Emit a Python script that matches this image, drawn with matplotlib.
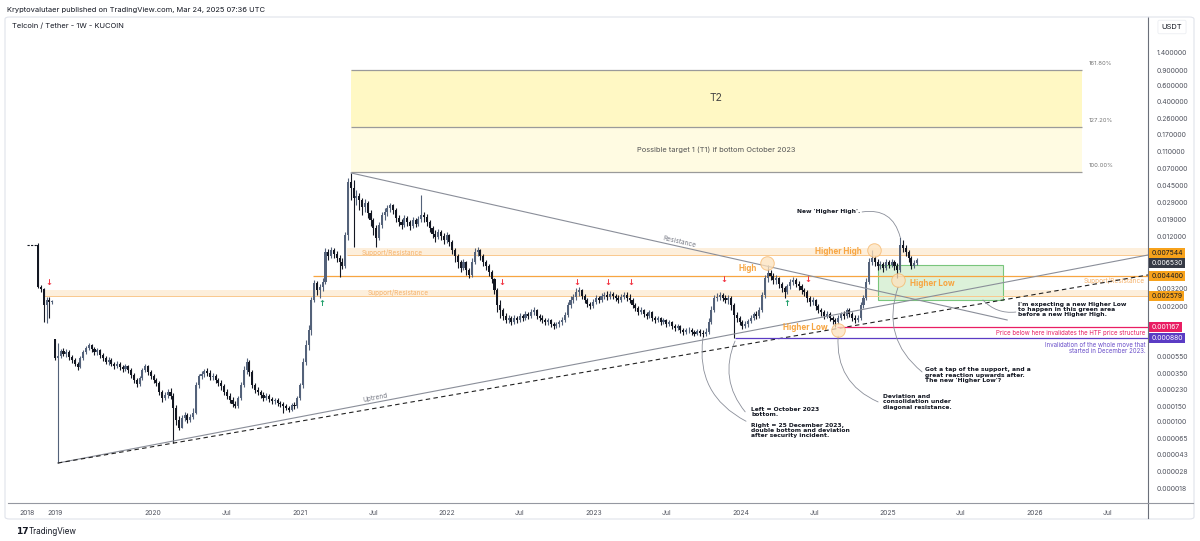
"""
Telcoin / Tether weekly chart (KuCoin) - TradingView style recreation
"""

import matplotlib
matplotlib.use('Agg')
import matplotlib.pyplot as plt
import matplotlib.transforms as mtransforms
from matplotlib.patches import Rectangle, FancyBboxPatch
from matplotlib.lines import Line2D
import numpy as np
import pandas as pd

plt.rcParams['font.family'] = ['Inter', 'DejaVu Sans']

# ---------------- data (weekly candles, bar index based like TradingView) ----------------
# 2018 bars (before the gap)
open_a0 = 0.00976
closes_a = [0.00329, 0.00312, 0.00206, 0.00235, 0.00223, 0.00229]
highs_a = [0.0103, 0.00346, 0.00320, 0.00254, 0.00254, 0.00235]
lows_a = [0.00320, 0.00289, 0.00133, 0.00130, 0.00147, 0.00212]

# May 2019 -> Mar 2025
open_b0 = 0.000855
closes_b = [
    0.000524, 0.000551, 0.000627, 0.000580, 0.000611, 0.000537, 0.000497, 0.000448, 0.000415, 0.000524,
    0.000611, 0.000678, 0.000733, 0.000660, 0.000611, 0.000644, 0.000566, 0.000524, 0.000472, 0.000497,
    0.000448, 0.000426, 0.000448, 0.000415, 0.000394, 0.000426, 0.000384, 0.000337, 0.000296, 0.000267,
    0.000312, 0.000384, 0.000426, 0.000365, 0.000329, 0.000296, 0.000274, 0.000217, 0.000186, 0.000201,
    0.000217, 0.000196, 0.000144, 0.000105, 0.0000856, 0.000111, 0.000120, 0.000105, 0.000114, 0.000126,
    0.000260, 0.000329, 0.000346, 0.000374, 0.000355, 0.000320, 0.000329, 0.000296, 0.000274, 0.000254,
    0.000217, 0.000196, 0.000177, 0.000159, 0.000151, 0.000186, 0.000260, 0.000384, 0.000472, 0.000365,
    0.000260, 0.000229, 0.000217, 0.000201, 0.000186, 0.000196, 0.000181, 0.000172, 0.000177, 0.000164,
    0.000159, 0.000151, 0.000144, 0.000136, 0.000155, 0.000151, 0.000186, 0.000260, 0.000472, 0.000733,
    0.00108, 0.00235, 0.00364, 0.00304, 0.00329, 0.00374, 0.00814, 0.00734, 0.00857, 0.00773,
    0.00697, 0.00628, 0.00566, 0.0126, 0.0497, 0.0425, 0.0328, 0.0346, 0.0312, 0.0260,
    0.0289, 0.0223, 0.0186, 0.0152, 0.0117, 0.0164, 0.0212, 0.0229, 0.0253, 0.0274,
    0.0241, 0.0196, 0.0177, 0.0164, 0.0196, 0.0177, 0.0160, 0.0186, 0.0168, 0.0191,
    0.0212, 0.0201, 0.0177, 0.0152, 0.0130, 0.0120, 0.0137, 0.0123, 0.0111, 0.0126,
    0.0105, 0.00857, 0.00734, 0.00628, 0.00537, 0.00628, 0.00510, 0.00448, 0.00628, 0.00814,
    0.00857, 0.00734, 0.00628, 0.00566, 0.00484, 0.00404, 0.00304, 0.00206, 0.00181, 0.00155,
    0.00140, 0.00147, 0.00133, 0.00147, 0.00140, 0.00155, 0.00147, 0.00163, 0.00155, 0.00172,
    0.00181, 0.00155, 0.00147, 0.00140, 0.00133, 0.00140, 0.00126, 0.00120, 0.00126, 0.00133,
    0.00140, 0.00159, 0.00206, 0.00235, 0.00254, 0.00289, 0.00304, 0.00260, 0.00235, 0.00212,
    0.00201, 0.00223, 0.00247, 0.00235, 0.00260, 0.00267, 0.00254, 0.00274, 0.00260, 0.00247,
    0.00235, 0.00254, 0.00267, 0.00247, 0.00235, 0.00206, 0.00191, 0.00172, 0.00181, 0.00163,
    0.00155, 0.00172, 0.00147, 0.00140, 0.00147, 0.00133, 0.00140, 0.00126, 0.00133, 0.00120,
    0.00114, 0.00120, 0.00108, 0.00103, 0.00108, 0.00108, 0.00103, 0.000974, 0.00105, 0.00100,
    0.000974, 0.00103, 0.00133, 0.00181, 0.00247, 0.00254, 0.00267, 0.00247, 0.00235, 0.00247,
    0.00206, 0.00159, 0.00147, 0.00133, 0.00120, 0.00126, 0.00136, 0.00147, 0.00163, 0.00155,
    0.00181, 0.00267, 0.00414, 0.00472, 0.00437, 0.00394, 0.00414, 0.00355, 0.00320, 0.00289,
    0.00337, 0.00374, 0.00394, 0.00355, 0.00337, 0.00304, 0.00289, 0.00247, 0.00223, 0.00235,
    0.00201, 0.00181, 0.00172, 0.00155, 0.00163, 0.00147, 0.00140, 0.00133, 0.00147, 0.00163,
    0.00155, 0.00181, 0.00163, 0.00147, 0.00140, 0.00147, 0.00206, 0.00247, 0.00374, 0.00628,
    0.00697, 0.00628, 0.00566, 0.00596, 0.00537, 0.00628, 0.00581, 0.00628, 0.00566, 0.00510,
    0.00976, 0.00903, 0.00814, 0.00697, 0.00566, 0.00611, 0.00653,
]
highs_b = [
    0.000855, 0.000771, 0.000660, 0.000678, 0.000660, 0.000644, 0.000566, 0.000524, 0.000472, 0.000551,
    0.000644, 0.000714, 0.000771, 0.000752, 0.000696, 0.000678, 0.000660, 0.000596, 0.000551, 0.000537,
    0.000524, 0.000472, 0.000484, 0.000472, 0.000437, 0.000448, 0.000437, 0.000404, 0.000355, 0.000312,
    0.000329, 0.000404, 0.000448, 0.000437, 0.000384, 0.000346, 0.000312, 0.000289, 0.000229, 0.000217,
    0.000235, 0.000241, 0.000212, 0.000155, 0.000117, 0.000120, 0.000130, 0.000126, 0.000123, 0.000144,
    0.000281, 0.000346, 0.000374, 0.000394, 0.000404, 0.000384, 0.000355, 0.000346, 0.000312, 0.000296,
    0.000267, 0.000235, 0.000212, 0.000191, 0.000172, 0.000196, 0.000281, 0.000426, 0.000524, 0.000497,
    0.000384, 0.000274, 0.000247, 0.000229, 0.000217, 0.000212, 0.000206, 0.000191, 0.000186, 0.000186,
    0.000172, 0.000168, 0.000159, 0.000151, 0.000164, 0.000168, 0.000196, 0.000274, 0.000524, 0.000834,
    0.00123, 0.00254, 0.00394, 0.00384, 0.00355, 0.00414, 0.00903, 0.00880, 0.00927, 0.00903,
    0.00835, 0.00753, 0.00697, 0.0137, 0.0551, 0.0627, 0.0523, 0.0404, 0.0374, 0.0328,
    0.0320, 0.0304, 0.0241, 0.0196, 0.0164, 0.0177, 0.0229, 0.0253, 0.0274, 0.0289,
    0.0281, 0.0253, 0.0212, 0.0191, 0.0212, 0.0206, 0.0186, 0.0201, 0.0196, 0.0206,
    0.0355, 0.0229, 0.0218, 0.0186, 0.0160, 0.0144, 0.0148, 0.0144, 0.0133, 0.0137,
    0.0130, 0.0111, 0.00903, 0.00773, 0.00661, 0.00679, 0.00644, 0.00537, 0.00697, 0.00903,
    0.00927, 0.00880, 0.00773, 0.00661, 0.00596, 0.00510, 0.00414, 0.00320, 0.00235, 0.00191,
    0.00168, 0.00159, 0.00155, 0.00159, 0.00155, 0.00168, 0.00163, 0.00176, 0.00172, 0.00186,
    0.00196, 0.00186, 0.00163, 0.00159, 0.00147, 0.00147, 0.00144, 0.00133, 0.00133, 0.00140,
    0.00151, 0.00172, 0.00223, 0.00260, 0.00274, 0.00320, 0.00329, 0.00312, 0.00274, 0.00247,
    0.00223, 0.00241, 0.00267, 0.00260, 0.00281, 0.00289, 0.00296, 0.00296, 0.00289, 0.00274,
    0.00267, 0.00274, 0.00289, 0.00289, 0.00274, 0.00247, 0.00217, 0.00201, 0.00196, 0.00186,
    0.00172, 0.00181, 0.00176, 0.00155, 0.00155, 0.00151, 0.00147, 0.00144, 0.00140, 0.00136,
    0.00126, 0.00126, 0.00123, 0.00114, 0.00114, 0.00117, 0.00114, 0.00108, 0.00111, 0.00111,
    0.00108, 0.00114, 0.00147, 0.00201, 0.00267, 0.00281, 0.00289, 0.00281, 0.00267, 0.00267,
    0.00260, 0.00217, 0.00172, 0.00155, 0.00140, 0.00136, 0.00144, 0.00159, 0.00172, 0.00176,
    0.00196, 0.00289, 0.00448, 0.00581, 0.00510, 0.00472, 0.00448, 0.00426, 0.00374, 0.00337,
    0.00355, 0.00404, 0.00426, 0.00414, 0.00384, 0.00355, 0.00320, 0.00304, 0.00260, 0.00254,
    0.00241, 0.00212, 0.00191, 0.00181, 0.00176, 0.00172, 0.00155, 0.00147, 0.00159, 0.00172,
    0.00176, 0.00191, 0.00191, 0.00172, 0.00159, 0.00159, 0.00223, 0.00267, 0.00414, 0.00697,
    0.00857, 0.00734, 0.00679, 0.00644, 0.00628, 0.00679, 0.00661, 0.00679, 0.00661, 0.00611,
    0.0120, 0.0111, 0.00976, 0.00857, 0.00734, 0.00661, 0.00697,
]
lows_b = [
    0.000497, 0.0000346, 0.000524, 0.000551, 0.000537, 0.000497, 0.000460, 0.000426, 0.000384, 0.000404,
    0.000497, 0.000580, 0.000644, 0.000611, 0.000566, 0.000566, 0.000524, 0.000484, 0.000448, 0.000437,
    0.000426, 0.000394, 0.000404, 0.000384, 0.000365, 0.000374, 0.000355, 0.000312, 0.000274, 0.000247,
    0.000254, 0.000296, 0.000365, 0.000337, 0.000304, 0.000274, 0.000254, 0.000201, 0.000168, 0.000177,
    0.000186, 0.000181, 0.0000580, 0.0000925, 0.0000813, 0.0000856, 0.000102, 0.0000972, 0.0000997, 0.000108,
    0.000123, 0.000241, 0.000304, 0.000320, 0.000329, 0.000296, 0.000296, 0.000274, 0.000254, 0.000229,
    0.000201, 0.000181, 0.000164, 0.000148, 0.000144, 0.000144, 0.000177, 0.000247, 0.000346, 0.000329,
    0.000241, 0.000212, 0.000201, 0.000186, 0.000172, 0.000177, 0.000168, 0.000159, 0.000159, 0.000151,
    0.000148, 0.000126, 0.000136, 0.000130, 0.000133, 0.000140, 0.000144, 0.000177, 0.000241, 0.000437,
    0.000644, 0.000949, 0.00223, 0.00267, 0.00247, 0.00296, 0.00355, 0.00661, 0.00697, 0.00697,
    0.00628, 0.00426, 0.00523, 0.00537, 0.0111, 0.0312, 0.00927, 0.0274, 0.0241, 0.0212,
    0.0229, 0.0196, 0.0160, 0.0126, 0.00927, 0.0111, 0.0152, 0.0186, 0.0206, 0.0229,
    0.0218, 0.0177, 0.0160, 0.0148, 0.0156, 0.0160, 0.0144, 0.0152, 0.0156, 0.0160,
    0.0177, 0.0177, 0.0160, 0.0137, 0.0117, 0.0105, 0.0114, 0.0111, 0.0100, 0.0103,
    0.00952, 0.00773, 0.00628, 0.00537, 0.00484, 0.00510, 0.00448, 0.00414, 0.00426, 0.00596,
    0.00734, 0.00661, 0.00566, 0.00510, 0.00437, 0.00364, 0.00274, 0.00172, 0.00147, 0.00140,
    0.00130, 0.00130, 0.00123, 0.00126, 0.00130, 0.00133, 0.00136, 0.00140, 0.00144, 0.00147,
    0.00159, 0.00144, 0.00136, 0.00130, 0.00123, 0.00123, 0.00117, 0.00111, 0.00114, 0.00117,
    0.00123, 0.00133, 0.00151, 0.00191, 0.00217, 0.00235, 0.00260, 0.00241, 0.00217, 0.00196,
    0.00186, 0.00191, 0.00212, 0.00217, 0.00223, 0.00241, 0.00235, 0.00241, 0.00241, 0.00229,
    0.00217, 0.00223, 0.00241, 0.00229, 0.00217, 0.00191, 0.00176, 0.00159, 0.00163, 0.00151,
    0.00144, 0.00147, 0.00136, 0.00130, 0.00133, 0.00123, 0.00126, 0.00117, 0.00120, 0.00111,
    0.00105, 0.00108, 0.00100, 0.000949, 0.000974, 0.00100, 0.000949, 0.000925, 0.000949, 0.000925,
    0.000901, 0.000925, 0.000974, 0.00126, 0.00172, 0.00229, 0.00235, 0.00229, 0.00217, 0.00212,
    0.00181, 0.000880, 0.00133, 0.00123, 0.00111, 0.00114, 0.00117, 0.00130, 0.00140, 0.00144,
    0.00147, 0.00172, 0.00247, 0.00374, 0.00394, 0.00355, 0.00355, 0.00320, 0.00289, 0.00247,
    0.00274, 0.00312, 0.00346, 0.00329, 0.00304, 0.00274, 0.00260, 0.00223, 0.00201, 0.00206,
    0.00181, 0.00168, 0.00155, 0.00144, 0.00147, 0.00136, 0.00126, 0.00117, 0.00126, 0.00140,
    0.00144, 0.00147, 0.00151, 0.00136, 0.00130, 0.00133, 0.00140, 0.00191, 0.00235, 0.00355,
    0.00581, 0.00566, 0.00510, 0.00523, 0.00484, 0.00510, 0.00537, 0.00551, 0.00510, 0.00414,
    0.00484, 0.00814, 0.00734, 0.00628, 0.00523, 0.00537, 0.00581,
]

# price levels drawn on the chart
fib_levels = [0.0644, 0.206, 0.905]
fib_names = ['100.00%', '127.20%', '161.80%']
upper_band = (0.007544, 0.0090)
lower_band = (0.002579, 0.00305)
sr_line = 0.0044
htf_line = 0.001167
invalid_line = 0.00088
green_zone = (0.00235, 0.0058)

# trend lines: (bar index, price)
resistance_pts = [(105.1, 0.0628), (338, 0.0014)]
uptrend_pts = [(1, 0.0000346), (388, 0.00752)]
uptrend_dashed_pts = [(1, 0.0000346), (388, 0.00449)]

price_ticks = [1.4, 0.9, 0.6, 0.4, 0.26, 0.17, 0.11, 0.07, 0.045, 0.029, 0.019, 0.012,
               0.0032, 0.002, 0.00055, 0.00035, 0.00023, 0.00015, 0.0001,
               0.000065, 0.000043, 0.000028, 0.000018]
# (price, background, text colour, nudge in points so stacked labels do not collide)
axis_labels = [(0.007544, '#f7a21b', '#131722', 1.5), (0.006530, '#363a45', 'white', -1.5),
               (0.004400, '#f7a21b', '#131722', 0), (0.002579, '#f7a21b', '#131722', 0),
               (0.001167, '#e91e63', 'white', 0), (0.000880, '#5b3cc4', 'white', 0)]

first_bar = pd.Timestamp('2019-05-03')
date_ticks = ['2020-01-01', '2020-07-01', '2021-01-01', '2021-07-01', '2022-01-01', '2022-07-01',
              '2023-01-01', '2023-07-01', '2024-01-01', '2024-07-01', '2025-01-01', '2025-07-01',
              '2026-01-01', '2026-07-01']
date_labels = ['2018', '2019', '2020', 'Jul', '2021', 'Jul', '2022', 'Jul', '2023', 'Jul',
               '2024', 'Jul', '2025', 'Jul', '2026', 'Jul']

red_arrows = [(-2.1, 0.00374), (158.7, 0.00374), (185.3, 0.00374), (196.3, 0.00374),
              (204.5, 0.00374), (237.5, 0.00394), (267.3, 0.00394)]
green_arrows = [(94.8, 0.00217), (259.9, 0.00217)]

ORANGE = '#f7a541'
UP, DOWN = '#54627a', '#131722'
GREY = '#8a8e99'

W, H = 1200, 541
fig = plt.figure(figsize=(W / 100, H / 100), dpi=100)
fig.patch.set_facecolor('white')
ax = fig.add_axes([8 / W, 1 - 503 / H, (1148 - 8) / W, (503 - 17) / H])
ax.set_yscale('log')
ax.set_xlim(-16.7, 388)
ax.set_ylim(1.23e-5, 3.55)
X1 = 388

# ---------------- zones ----------------
ax.add_patch(Rectangle((105, fib_levels[0]), 364.6 - 105, fib_levels[1] - fib_levels[0],
                       fc='#fffbe2', ec='none', zorder=1))
ax.add_patch(Rectangle((105, fib_levels[1]), 364.6 - 105, fib_levels[2] - fib_levels[1],
                       fc='#fff8c4', ec='none', zorder=1))
for lvl, name in zip(fib_levels, fib_names):
    ax.hlines(lvl, 105, 364.6, color='#9a9a9a', lw=0.9, zorder=2)
    ax.annotate(name, (367, lvl), xytext=(0, 3), textcoords='offset points',
                fontsize=4.3, color='#777', va='bottom', ha='left')
ax.text(234.8, np.sqrt(fib_levels[1] * fib_levels[2]), 'T2', fontsize=7.5, color='#444',
        ha='center', va='center')
ax.text(234.8, np.sqrt(fib_levels[0] * fib_levels[1]),
        'Possible target 1 (T1) if bottom October 2023', fontsize=5.4, color='#555',
        ha='center', va='center')

ax.add_patch(Rectangle((103.7, upper_band[0]), X1 - 103.7, upper_band[1] - upper_band[0],
                       fc='#fdefdc', ec='none', zorder=1))
ax.hlines(upper_band[0], 103.7, X1, color='#f9c88d', lw=0.7, zorder=2)
ax.add_patch(Rectangle((-4.3, lower_band[0]), X1 + 4.3, lower_band[1] - lower_band[0],
                       fc='#fdefdc', ec='none', zorder=1))
ax.hlines(lower_band[0], -4.3, X1, color='#f9c88d', lw=0.7, zorder=2)
ax.hlines(sr_line, 91.6, X1, color=ORANGE, lw=0.9, zorder=2)
ax.text(119.6, 0.0080, 'Support/Resistance', fontsize=4.7, color='#f5b26b', ha='center', va='center')
ax.text(121.8, 0.0028, 'Support/Resistance', fontsize=4.7, color='#f5b26b', ha='center', va='center')
ax.text(387, 0.0039, 'Support/Resistance', fontsize=4.7, color='#f5b26b', ha='right', va='center')

ax.add_patch(Rectangle((292.2, green_zone[0]), 336.5 - 292.2, green_zone[1] - green_zone[0],
                       fc='#d9f0d5', ec='#6cc070', lw=0.8, alpha=0.9, zorder=1))

# ---------------- candles ----------------
idx = np.arange(-len(closes_a), len(closes_b))
opens = np.array([open_a0] + closes_a[:-1] + [open_b0] + closes_b[:-1])
closes = np.array(closes_a + closes_b)
highs = np.array(highs_a + highs_b)
lows = np.array(lows_a + lows_b)
colors = np.where(closes >= opens, UP, DOWN)
ax.vlines(idx, lows, highs, colors=colors, lw=0.8, zorder=3)
ax.bar(idx, np.abs(closes - opens), bottom=np.minimum(opens, closes), width=0.74,
       color=colors, linewidth=0, zorder=3)
ax.hlines(open_a0, -10, -6.4, color=DOWN, lw=0.8, linestyles=(0, (2, 1.2)), zorder=3)

# ---------------- drawings ----------------
(rx0, ry0), (rx1, ry1) = resistance_pts
ax.plot([rx0, rx1], [ry0, ry1], color=GREY, lw=0.8, zorder=4)
(ux0, uy0), (ux1, uy1) = uptrend_pts
ax.plot([ux0, ux1], [uy0, uy1], color=GREY, lw=0.8, zorder=4)
(dx0, dy0), (dx1, dy1) = uptrend_dashed_pts
ax.plot([dx0, dx1], [dy0, dy1], color='#222', lw=0.8, ls=(0, (4, 3)), zorder=4)
ax.text(221.5, 0.0105, 'Resistance', fontsize=4.7, color='#787b86', rotation=-12.6,
        ha='center', va='center')
ax.text(113.6, 0.000188, 'Uptrend', fontsize=4.7, color='#787b86', rotation=10.8,
        ha='center', va='center')

ax.hlines(htf_line, 277.5, X1, color='#e91e63', lw=0.9, zorder=4)
ax.hlines(invalid_line, 241.4, X1, color='#5b3cc4', lw=0.9, zorder=4)
ax.text(387, 0.00100, 'Price below here invalidates the HTF price structure', fontsize=4.4,
        color='#e91e63', ha='right', va='center')
ax.text(387, 0.00068, 'Invalidation of the whole move that\nstarted in December 2023.',
        fontsize=4.4, color='#6a4fc9', ha='right', va='center', multialignment='right',
        linespacing=1.1)

for x, y in red_arrows:
    ax.text(x, y, '↓', fontsize=6, color='#f23645', fontweight='bold', ha='center',
            va='center', family='DejaVu Sans')
for x, y in green_arrows:
    ax.text(x, y, '↑', fontsize=6, color='#22a06b', fontweight='bold', ha='center',
            va='center', family='DejaVu Sans')

circles = [(252.7, 0.00611), (290.7, 0.00857), (278, 0.00108), (299.3, 0.00394)]
ax.scatter([c[0] for c in circles], [c[1] for c in circles], s=95, fc='#fde2bd',
           ec='#f6b66a', lw=0.7, alpha=0.75, zorder=5)

lbl = dict(fontsize=5.8, color=ORANGE, fontweight='bold', ha='center', va='center', zorder=6)
ax.text(246, 0.00537, 'High', **lbl)
ax.text(278, 0.00814, 'Higher High', **lbl)
ax.text(311.3, 0.00364, 'Higher Low', **lbl)
ax.text(266.2, 0.00114, 'Higher Low', **lbl)

note = dict(fontsize=4.3, color='#131722', fontweight='bold', family='DejaVu Sans',
            linespacing=1.05, va='center', zorder=6)
ax.text(285.8, 0.0229, "New 'Higher High'.", ha='right', **note)
ax.text(341.9, 0.00184, "I'm expecting a new Higher Low\nto happen in this green area\n"
        "before a new Higher High.", ha='left', **note)
ax.text(308.8, 0.000337, "Got a tap of the support, and a\ngreat reaction upwards after.\n"
        "The new 'Higher Low'?", ha='left', **note)
ax.text(293.9, 0.000168, "Deviation and\nconsolidation under\ndiagonal resistance.",
        ha='left', **note)
ax.text(247.1, 0.0000986, "Left = October 2023\nbottom.\n\nRight = 25 December 2023,\n"
        "double bottom and deviation\nafter security incident.", ha='left', **note)


def connector(p0, p1, rad):
    ax.annotate('', xy=p1, xytext=p0,
                arrowprops=dict(arrowstyle='-', color='#8a8e99', lw=0.6, shrinkA=0, shrinkB=0,
                                connectionstyle=f'arc3,rad={rad}'), zorder=4)


connector((286.5, 0.0229), (300, 0.0120), -0.45)
connector((329.4, 0.00235), (341.1, 0.00172), 0.25)
connector((299.3, 0.00329), (307.8, 0.000365), 0.35)
connector((278, 0.000925), (292.2, 0.000168), 0.35)
connector((230, 0.000878), (245.3, 0.000102), 0.35)
connector((241.4, 0.000812), (245, 0.00013), 0.3)

# ---------------- axes styling ----------------
for s in ['top', 'left']:
    ax.spines[s].set_visible(False)
ax.spines['right'].set_color('#6b6f7a')
ax.spines['bottom'].set_color('#9598a1')
ax.spines['right'].set_linewidth(0.8)
ax.spines['bottom'].set_linewidth(0.8)
ax.yaxis.tick_right()
ax.yaxis.set_minor_locator(matplotlib.ticker.NullLocator())
ax.set_yticks(price_ticks)
ax.set_yticklabels([f'{t:.6f}' for t in price_ticks])
ax.tick_params(axis='y', length=0, pad=6, labelsize=4.9, labelcolor='#50535e')

tick_pos = [-10, 0] + list((pd.to_datetime(date_ticks) - first_bar).days / 7)
ax.set_xticks(tick_pos)
ax.set_xticklabels(date_labels)
ax.tick_params(axis='x', length=0, pad=5, labelsize=4.9, labelcolor='#50535e')

blend = mtransforms.blended_transform_factory(ax.transAxes, ax.transData)
for price, bg, fg, nudge in axis_labels:
    ax.annotate(f'{price:.6f}', (1.003, price), xycoords=blend, xytext=(0, nudge),
                textcoords='offset points', fontsize=4.9, color=fg, ha='left', va='center',
                zorder=10, annotation_clip=False,
                bbox=dict(boxstyle='square,pad=0.3', fc=bg, ec='none'))

# frame, header, footer
fig.patches.append(FancyBboxPatch((5 / W, 1 - 519 / H), 1189 / W, 502 / H,
                                  boxstyle='round,pad=0,rounding_size=0.004',
                                  transform=fig.transFigure, fc='none', ec='#e0e3eb', lw=0.8))
fig.lines.append(Line2D([1148 / W, 1148 / W], [1 - 503 / H, 1 - 518 / H],
                        transform=fig.transFigure, color='#6b6f7a', lw=0.8))
fig.lines.append(Line2D([1148 / W, 1193 / W], [1 - 503 / H, 1 - 503 / H],
                        transform=fig.transFigure, color='#9598a1', lw=0.8))
fig.text(1172 / W, 1 - 27 / H, 'USDT', fontsize=5.4, color='#131722', ha='center', va='center',
         bbox=dict(boxstyle='round,pad=0.5,rounding_size=0.2', fc='white', ec='#eceef2', lw=0.6))
fig.text(7 / W, 1 - 10 / H, 'Kryptovalutaer published on TradingView.com, Mar 24, 2025 07:36 UTC',
         fontsize=5.4, color='#131722', va='center')
fig.text(12 / W, 1 - 26 / H, 'Telcoin / Tether - 1W - KUCOIN', fontsize=5.4, color='#131722',
         va='center')
fig.text(16 / W, 1 - 531 / H, '17', fontsize=6.5, fontweight='heavy', color='#131722',
         va='center', family='DejaVu Sans')
fig.text(29 / W, 1 - 531 / H, 'TradingView', fontsize=5.8, color='#131722', va='center')

fig.savefig('out.png', dpi=100, facecolor='white')
